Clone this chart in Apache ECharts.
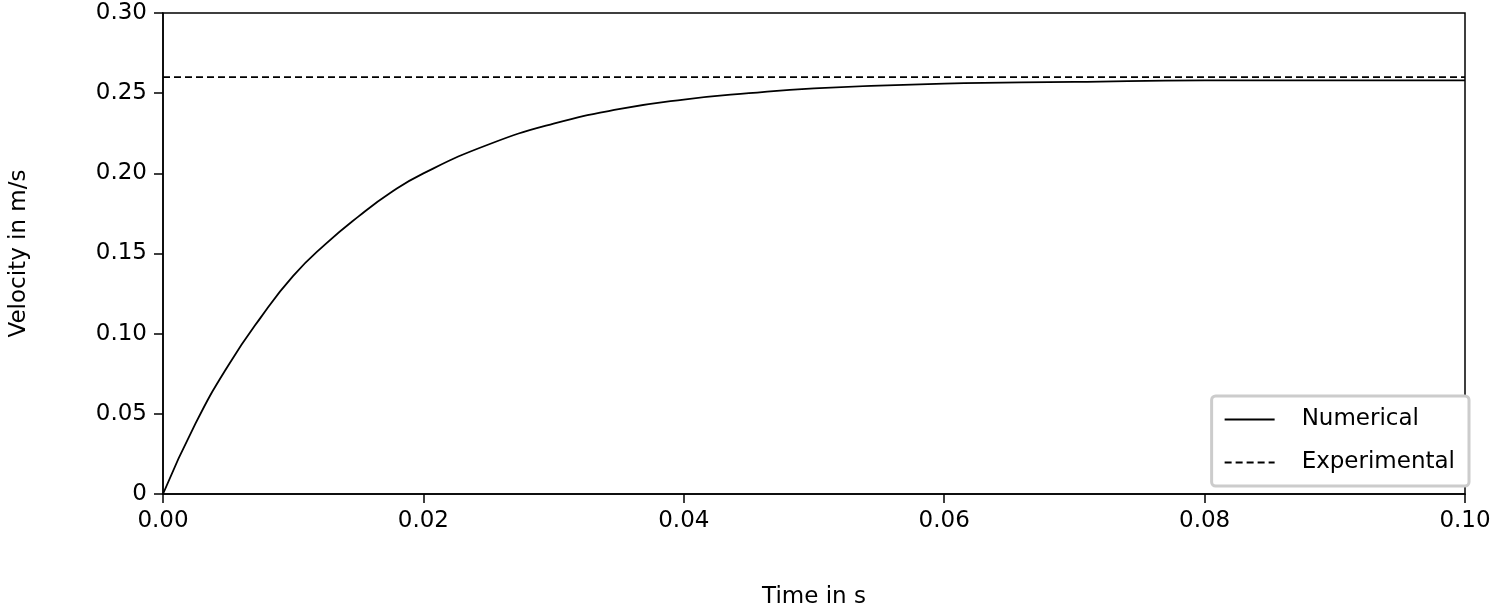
<!DOCTYPE html>
<html><head><meta charset="utf-8">
<script src="https://cdn.jsdelivr.net/npm/echarts@6/dist/echarts.min.js"></script>
<style>html,body{margin:0;padding:0;background:#fff}#c{width:1496px;height:614px}</style>
</head><body><div id="c"></div>
<script>
const timeS = [0,0.0025,0.005,0.0075,0.01,0.0125,0.015,0.0175,0.02,0.025,0.03,0.035,0.04,0.045,0.05,0.06,0.07,0.08,0.09,0.1];
const numerical = [0,0.044,0.080,0.110,0.136,0.156,0.173,0.188,0.200,0.218,0.231,0.240,0.246,0.250,0.253,0.256,0.257,0.258,0.258,0.258];
const experimentalT = [0,0.1];
const experimental = [0.26,0.26];
const font = 'DejaVu Sans';
const chart = echarts.init(document.getElementById('c'));
chart.setOption({
  animation:false,
  textStyle:{fontFamily:font},
  grid:{left:159,right:31,top:13,bottom:117,show:true,borderColor:'#000',borderWidth:1.5},
  xAxis:{type:'value',min:0,max:0.1,interval:0.02,name:'Time in s',nameLocation:'middle',nameGap:92,
    nameTextStyle:{fontSize:23,color:'#000',fontFamily:font},
    axisLine:{lineStyle:{color:'#000',width:1.5}},axisTick:{length:9,lineStyle:{color:'#000',width:1.5}},
    axisLabel:{fontSize:23,color:'#000',margin:16,formatter:v=>v.toFixed(2)},splitLine:{show:false}},
  yAxis:{type:'value',min:0,max:0.3,interval:0.05,name:'Velocity in m/s',nameLocation:'middle',nameGap:132,
    nameTextStyle:{fontSize:23,color:'#000',fontFamily:font},
    axisLine:{show:true,lineStyle:{color:'#000',width:1.5}},axisTick:{show:true,length:9,lineStyle:{color:'#000',width:1.5}},
    axisLabel:{fontSize:23,color:'#000',margin:16,formatter:v=>v===0?'0':v.toFixed(2)},splitLine:{show:false}},
  legend:{right:27,bottom:128,orient:'vertical',itemWidth:50,itemHeight:14,itemGap:20,
    borderColor:'#ccc',borderWidth:3,borderRadius:4,padding:[12,14,12,12],backgroundColor:'#fff',
    itemStyle:{opacity:0},
    textStyle:{fontSize:23,color:'#000',fontFamily:font,padding:[0,0,0,22]},
    data:['Numerical','Experimental']},
  series:[
    {name:'Numerical',type:'line',smooth:true,symbol:'none',data:timeS.map((t,i)=>[t,numerical[i]]),lineStyle:{color:'#000',width:1.8},itemStyle:{color:'#000'}},
    {name:'Experimental',type:'line',symbol:'none',data:experimentalT.map((t,i)=>[t,experimental[i]]),lineStyle:{color:'#000',width:1.8,type:[7,4]},itemStyle:{color:'#000'}}
  ]
});
</script></body></html>
